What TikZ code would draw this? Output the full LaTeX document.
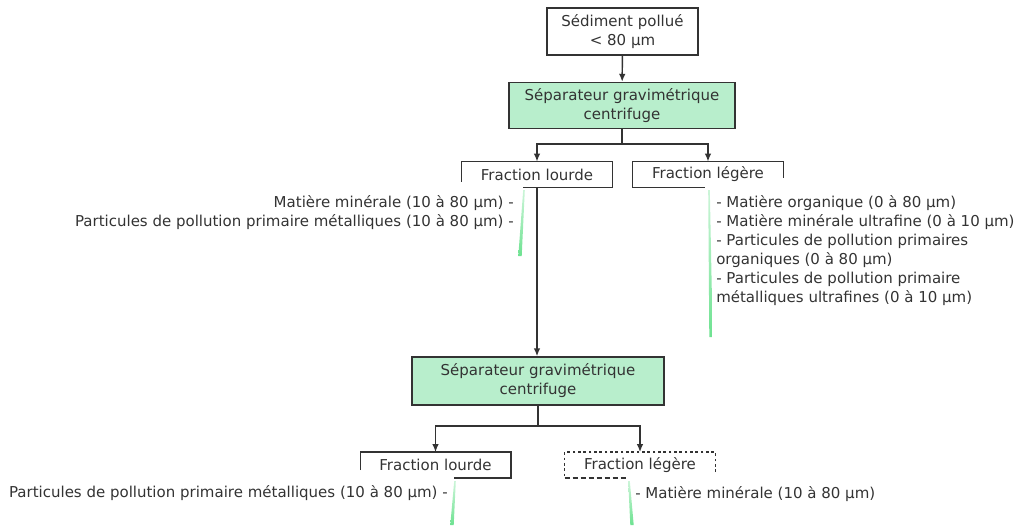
\documentclass[tikz,border=0pt]{standalone}
\usepackage{fontspec}
\setmainfont{DejaVu Sans}
\usetikzlibrary{arrows.meta}
\definecolor{sepvert}{RGB}{184,238,204}
\definecolor{trait}{RGB}{51,51,51}
\definecolor{filetvert}{RGB}{110,226,145}
\begin{document}
\begin{tikzpicture}[x=0.75pt,y=-0.75pt,
		every node/.style={font=\fontsize{11.25}{14.3}\selectfont, text=trait, inner sep=0pt},
		boite/.style={align=center, line width=1.1pt, draw=trait},
		separateur/.style={boite, fill=sepvert, minimum width=189pt, minimum height=34.5pt},
		fraction/.style={minimum width=112.5pt, minimum height=19pt},
		cadre/.style={draw=trait, line width=1.1pt},
		fleche/.style={cadre, -{Latex[length=6pt,width=5pt]}}]
		\useasboundingbox (0,0) rectangle (1016,525);

		\node[boite, minimum width=113.25pt, minimum height=35.25pt] (sediment) at (622.5,31.5) {Sédiment pollué\\< 80 µm};
		\node[separateur, minimum width=169.5pt] (sep1) at (622,105.5) {Séparateur gravimétrique\\centrifuge};
		\node[fraction] (lourdeA) at (537,174.5) {Fraction lourde};
		\node[fraction] (legereA) at (708,174.5) {Fraction légère};
		\node[separateur, minimum height=36pt] (sep2) at (538,381) {Séparateur gravimétrique\\centrifuge};
		\node[fraction] (lourdeB) at (435.5,465) {Fraction lourde};
		\node[fraction] (legereB) at (640,465) {Fraction légère};

		\coordinate (fourche1) at (622,144);
		\coordinate (fourche2) at (538,426);

		\draw[fleche] (sediment) -- (sep1);
		\draw[cadre] (sep1) -- (fourche1);
		\draw[fleche] (fourche1) -| (lourdeA);
		\draw[fleche] (fourche1) -| (legereA);
		\draw[fleche] (lourdeA.south) -- (lourdeA.south |- sep2.north);
		\draw[cadre] (sep2) -- (fourche2);
		\draw[fleche] (fourche2) -| (lourdeB);
		\draw[fleche] (fourche2) -| (legereB);

		\draw[cadre] (lourdeA.north west) ++(0,20) -- (lourdeA.north west) -- (lourdeA.north east) -- (lourdeA.south east) -- ++(-89,0);
		\draw[cadre] (legereA.north east) ++(0,16) -- (legereA.north east) -- (legereA.north west) -- (legereA.south west) -- ++(72,0);
		\draw[cadre] (lourdeB.north west) ++(0,18) -- (lourdeB.north west) -- (lourdeB.north east) -- (lourdeB.south east) -- ++(-57,0);
		\draw[cadre, dash pattern=on 2pt off 2pt] (legereB.north east) ++(0,20) -- (legereB.north east) -- (legereB.north west) -- (legereB.south west);
		\draw[cadre, dash pattern=on 4pt off 2pt] (legereB.south west) -- ++(63,0);

		\foreach \xa/\ya/\xb/\yb in {524/190/520/256, 709/190/711/337, 455/481/452/525, 629/481/632/525}
			\shade[top color=filetvert!35, bottom color=filetvert] (\xa-0.8,\ya) -- (\xa+0.8,\ya) -- (\xb+1.7,\yb) -- (\xb-1.7,\yb) -- cycle;

		\node[anchor=east, align=right] (mineraleA) at (514,213) {Matière minérale (10 à 80 µm) -\\Particules de pollution primaire métalliques (10 à 80 µm) -};
		\node[anchor=north west, align=left] (organiqueA) at (716,195) {- Matière organique (0 à 80 µm)\\- Matière minérale ultrafine (0 à 10 µm)\\- Particules de pollution primaires\\organiques (0 à 80 µm)\\- Particules de pollution primaire\\métalliques ultrafines (0 à 10 µm)};
		\node[anchor=east] (metalliqueB) at (448,493) {Particules de pollution primaire métalliques (10 à 80 µm) -};
		\node[anchor=west] (mineraleB) at (635,494) {- Matière minérale (10 à 80 µm)};
	\end{tikzpicture}
\end{document}
